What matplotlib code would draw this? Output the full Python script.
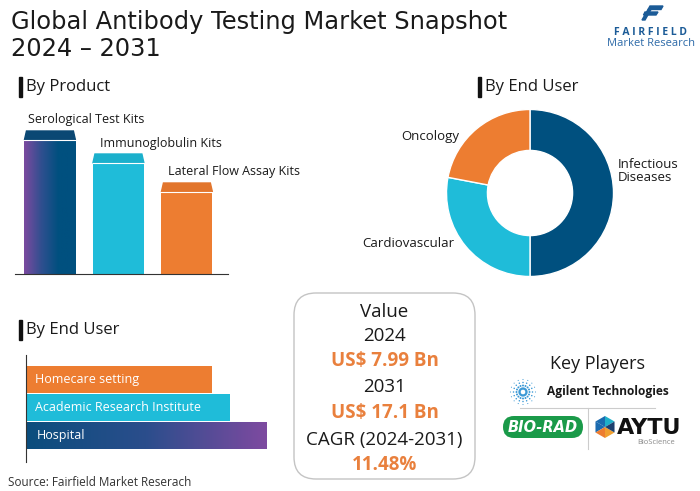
import numpy as np
import matplotlib.pyplot as plt
from matplotlib.patches import FancyBboxPatch, Polygon, Rectangle
from matplotlib.colors import LinearSegmentedColormap

plt.rcParams['font.family'] = ['Open Sans', 'DejaVu Sans']

W, H = 700, 491

# ---- data ----
product_names = ['Serological Test Kits', 'Immunoglobulin Kits', 'Lateral Flow Assay Kits']
product_values = [143, 120, 91]
product_colors = ['#00507f', '#1fbcd9', '#ed7d31']
product_caps = ['#0b4874', '#1bb0cc', '#e2752c']

donut_names = ['Infectious\nDiseases', 'Cardiovascular', 'Oncology']
donut_values = [50, 28, 22]
donut_colors = ['#00507f', '#1fbcd9', '#ed7d31']

enduser_names = ['Homecare setting', 'Academic Research Institute', 'Hospital']
enduser_values = [186, 204, 241]
enduser_colors = ['#ed7d31', '#1fbcd9', '#00507f']

value_lines = ['Value', '2024', 'US$ 7.99 Bn', '2031', 'US$ 17.1 Bn', 'CAGR (2024-2031)', '11.48%']
value_highlight = [False, False, True, False, True, False, True]

DARK = '#1a1a1a'
ORANGE = '#e9803d'

fig = plt.figure(figsize=(7, 4.91), dpi=100)


def px_axes(x0, y0, x1, y1):
    return fig.add_axes([x0 / W, 1 - y1 / H, (x1 - x0) / W, (y1 - y0) / H])


# overlay in pixel coords for texts and decorations
bg = fig.add_axes([0, 0, 1, 1], zorder=0)
bg.set_xlim(0, W)
bg.set_ylim(H, 0)
bg.axis('off')

bg.text(11, 29, 'Global Antibody Testing Market Snapshot', fontsize=17.4, color=DARK,
        va='baseline', family='DejaVu Sans')
bg.text(11, 56, '2024 \u2013 2031', fontsize=17.4, color=DARK, va='baseline', family='DejaVu Sans')

# logo
blue_logo = '#1b5b97'
bg.add_patch(Polygon([(650, 6), (663, 6), (661, 9.5), (648, 9.5)], color=blue_logo))
bg.add_patch(Polygon([(645, 12), (658, 12), (656, 15), (643.5, 15)], color=blue_logo))
bg.add_patch(Polygon([(648, 9.5), (651, 9.5), (645, 20), (642, 20)], color=blue_logo))
bg.text(651, 32.5, 'F A I R F I E L D', fontsize=7.5, fontweight='bold', color=blue_logo,
        ha='center', va='center')
bg.text(651, 43, 'Market Research', fontsize=8, color='#2d6aa8', ha='center', va='center')

# section headers
for (x, y, label) in [(19, 77, 'By Product'), (478, 77, 'By End User'), (19, 320, 'By End User')]:
    bg.add_patch(Rectangle((x, y), 3.2, 20, color='#111111'))
    bg.text(x + 7, y + 9.5, label, fontsize=12, color=DARK, va='center')

# ---- product bars ----
ax1 = px_axes(15, 100, 228, 274)
xs = np.arange(len(product_values))
bw = 0.745
cap = 9
bars = ax1.bar(xs, [v - cap for v in product_values], width=bw, color=product_colors, zorder=2)
for i, v in enumerate(product_values):
    x0 = xs[i] - bw / 2
    ax1.add_patch(Polygon([(x0, v - cap), (x0 + bw, v - cap), (x0 + bw - 0.03, v), (x0 + 0.03, v)],
                          color=product_caps[i], zorder=3))
    ax1.plot([x0, x0 + bw], [v - cap, v - cap], color='white', lw=0.8, zorder=4)
    ax1.text(x0 + (0.05 if i == 0 else 0.1), v + 11, product_names[i], fontsize=9, color=DARK,
             va='center', ha='left')
grad1 = LinearSegmentedColormap.from_list('g1', ['#7b4aa0', '#2f4f8f', '#00507f', '#00507f'])
im = ax1.imshow(np.linspace(0, 1, 100).reshape(1, -1), cmap=grad1, aspect='auto',
                extent=[xs[0] - bw / 2, xs[0] + bw / 2, 0, product_values[0] - cap], zorder=2.5)
im.set_clip_path(bars[0])
ax1.set_xlim(-0.51, 2.6)
ax1.set_ylim(0, 174)
for s in ['top', 'right', 'left']:
    ax1.spines[s].set_visible(False)
ax1.spines['bottom'].set_color('#333333')
ax1.set_xticks([])
ax1.set_yticks([])
ax1.patch.set_alpha(0)

# ---- donut ----
ax2 = px_axes(446.5, 109.5, 613.5, 276.5)
ax2.pie(donut_values, colors=donut_colors, startangle=90, counterclock=False, radius=1,
        wedgeprops=dict(width=0.49, edgecolor='white', linewidth=1))
ax2.set_xlim(-1, 1)
ax2.set_ylim(-1, 1)
ax2.text(1.05, 0.26, donut_names[0], fontsize=9.5, color=DARK, ha='left', va='center',
         linespacing=1.0)
ax2.text(-1.46, -0.61, donut_names[1], fontsize=9.5, color=DARK, ha='center', va='center')
ax2.text(-1.2, 0.68, donut_names[2], fontsize=9.5, color=DARK, ha='center', va='center')

# ---- end user horizontal bars ----
ax3 = px_axes(26, 355, 300, 462)
ys = np.arange(len(enduser_values))
hbars = ax3.barh(ys, enduser_values, height=0.96, color=enduser_colors, zorder=2)
grad2 = LinearSegmentedColormap.from_list('g2', ['#0b4d7d', '#2b4e8c', '#7d4aa0'])
im2 = ax3.imshow(np.linspace(0, 1, 100).reshape(1, -1), cmap=grad2, aspect='auto',
                 extent=[0, enduser_values[2], ys[2] + 0.48, ys[2] - 0.48], zorder=2.5)
im2.set_clip_path(hbars[2])
for i, name in enumerate(enduser_names):
    ax3.text(9 if i < 2 else 11, ys[i], name, fontsize=9, color='white', va='center', zorder=5)
ax3.set_xlim(0, 274)
ax3.set_ylim(2.946, -0.875)
for s in ['top', 'right', 'bottom']:
    ax3.spines[s].set_visible(False)
ax3.spines['left'].set_color('#333333')
ax3.set_xticks([])
ax3.set_yticks([])
ax3.patch.set_alpha(0)

bg.text(8, 482, 'Source: Fairfield Market Reserach', fontsize=8.5, color='#333333', va='center')

# ---- value box ----
bg.add_patch(FancyBboxPatch((294, 293), 181, 186, boxstyle='round,pad=0,rounding_size=22',
                            facecolor='white', edgecolor='#c4c4c4', lw=1))
value_y = [312, 336, 361, 387, 413, 440, 465]
for txt, y, hl in zip(value_lines, value_y, value_highlight):
    bg.text(384.5, y, txt, fontsize=13.5, ha='center', va='center',
            color=ORANGE if hl else DARK, fontweight='bold' if hl else 'normal')

# ---- key players ----
bg.text(597, 364, 'Key Players', fontsize=13, color=DARK, ha='center', va='center')
# agilent starburst
for a in np.arange(0, 360, 22.5):
    r = np.array([3.5, 6.5, 9.5, 12.5])
    bg.scatter(523 + r * np.cos(np.radians(a)), 392 + r * np.sin(np.radians(a)),
               s=[3, 2, 1.2, 0.6], color='#3d9ad6', linewidths=0)
bg.text(547, 392, 'Agilent Technologies', fontsize=8.6, fontweight='bold', color=DARK,
        va='center', ha='left')
bg.plot([520, 655], [408, 408], color='#cccccc', lw=0.8)
bg.plot([588, 588], [408, 449], color='#cccccc', lw=0.8)
# bio-rad
bg.add_patch(FancyBboxPatch((503, 416), 80, 22, boxstyle='round,pad=0,rounding_size=11',
                            facecolor='#1a9a49', edgecolor='none'))
bg.text(543, 427.5, 'BIO-RAD', fontsize=10.5, fontweight='bold', style='italic', color='white',
        ha='center', va='center', family='DejaVu Sans')
# aytu
hx, hy, hr = 605, 427, 11
hex_cols = ['#1fb0c9', '#1b6bb0', '#1b6bb0', '#ed7d31', '#f0a030', '#1d3f6e']
for k in range(6):
    a0 = np.radians(60 * k + 30)
    a1 = np.radians(60 * (k + 1) + 30)
    bg.add_patch(Polygon([(hx, hy), (hx + hr * np.cos(a0), hy - hr * np.sin(a0)),
                          (hx + hr * np.cos(a1), hy - hr * np.sin(a1))],
                         color=hex_cols[k], lw=0))
bg.text(617, 428, 'AYTU', fontsize=16, fontweight='bold', color='#111111', va='center',
        ha='left', family='DejaVu Sans')
bg.text(656, 442, 'BioScience', fontsize=5.5, color='#888888', va='center', ha='center')

fig.savefig('out.png', dpi=100)
